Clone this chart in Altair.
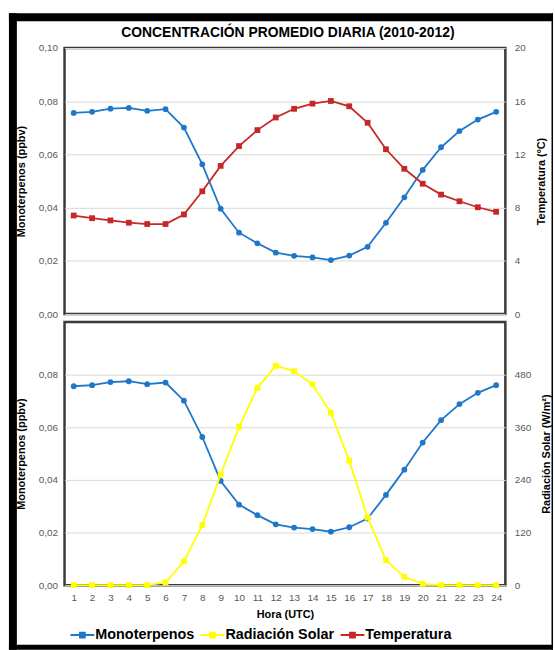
import altair as alt
import pandas as pd

# ---- data ----
horas = list(range(1, 25))
monoterpenos = [0.0756, 0.0760, 0.0772, 0.0775, 0.0764, 0.0770, 0.0701, 0.0563,
                0.0396, 0.0306, 0.0266, 0.0231, 0.0219, 0.0213, 0.0203, 0.0220,
                0.0253, 0.0343, 0.0439, 0.0542, 0.0627, 0.0688, 0.0731, 0.0760]
temperatura = [7.41, 7.21, 7.04, 6.87, 6.77, 6.77, 7.49, 9.23, 11.14, 12.63,
               13.83, 14.78, 15.43, 15.82, 16.02, 15.62, 14.38, 12.39, 10.92,
               9.80, 8.98, 8.48, 8.03, 7.69]
radiacion = [0, 0, 0, 0, 0, 6, 54, 137, 252, 361, 450, 500, 488, 458, 393, 284,
             154, 57, 19, 3, 0, 0, 0, 0]

series = ["Monoterpenos", "Radiación Solar", "Temperatura"]
colores = ["#1F77C9", "#FFFF00", "#C62828"]

mono_ticks = [0, 0.02, 0.04, 0.06, 0.08, 0.10]
mono_ticks_bottom = [0, 0.02, 0.04, 0.06, 0.08]
temp_ticks = [0, 4, 8, 12, 16, 20]
rad_ticks = [0, 120, 240, 360, 480]

df = pd.DataFrame({"hora": horas, "mono": monoterpenos,
                   "temp": temperatura, "rad": radiacion})
one = pd.DataFrame({"k": [0]})

FONT = "Liberation Sans"
W, H_TOP, H_BOT = 444, 268, 265

color_scale = alt.Scale(domain=series, range=colores)
sq = "M-1,0H1M-0.2,-0.2H0.2V0.2H-0.2Z"
legend = alt.Legend(
    title=None, orient="none", direction="horizontal",
    legendX=5, legendY=578,
    labelFont=FONT, labelFontSize=14.5, labelFontWeight="bold", labelColor="black",
    symbolType=sq, symbolSize=576, symbolStrokeWidth=2,
    columnPadding=2, labelOffset=0,
)


def col(name):
    return alt.Color("serie:N", scale=color_scale, legend=legend)


lbl2 = "replace(format(datum.value, '.2f'), '.', ',')"

x_top = alt.X("hora:O", axis=None)
x_bot = alt.X("hora:O", axis=alt.Axis(title="Hora (UTC)", labelAngle=0, ticks=False,
                                     domain=False, labelPadding=7, titlePadding=7))

y_mono_top = alt.Y("mono:Q", scale=alt.Scale(domain=[0, 0.10]),
                   axis=alt.Axis(title="Monoterpenos (ppbv)", values=mono_ticks,
                                 labelExpr=lbl2, grid=True, titlePadding=12))
y_mono_bot = alt.Y("mono:Q", scale=alt.Scale(domain=[0, 0.10]),
                   axis=alt.Axis(title="Monoterpenos (ppbv)", values=mono_ticks_bottom,
                                 labelExpr=lbl2, grid=True, titlePadding=12))
y_temp = alt.Y("temp:Q", scale=alt.Scale(domain=[0, 20]),
               axis=alt.Axis(title="Temperatura (ºC)", orient="right", values=temp_ticks,
                             grid=False, titleAngle=270, titlePadding=21, labelPadding=9))
y_rad = alt.Y("rad:Q", scale=alt.Scale(domain=[0, 600]),
              axis=alt.Axis(title="Radiación Solar (W/m²)", orient="right", values=rad_ticks,
                            grid=False, titleAngle=270, titlePadding=21, labelPadding=9))


def series_layer(field_name, x, y, shape):
    base = alt.Chart(df).transform_calculate(serie="'%s'" % field_name)
    line = base.mark_line(strokeWidth=1.8).encode(x=x, y=y, color=col(field_name))
    pts = base.mark_point(filled=True, size=34, opacity=1, shape=shape).encode(
        x=x, y=y, color=alt.Color("serie:N", scale=color_scale, legend=None))
    return line + pts


def band(x1, x2, y1, y2):
    return alt.Chart(one).mark_rect(color="black").encode(
        x=alt.value(x1), x2=alt.value(x2), y=alt.value(y1), y2=alt.value(y2))


# outer frame of the picture (relative to the top plot's origin)
frame = alt.layer(
    band(-56, -48, -35, 606),
    band(-56, 492, -35, -27),
    band(490.5, 492, -35, 606),
    band(-56, 492, 601, 606),
)

top = alt.layer(
    alt.layer(series_layer("Monoterpenos", x_top, y_mono_top, "circle"), frame),
    series_layer("Temperatura", x_top, y_temp, "square"),
).resolve_scale(y="independent").properties(width=W, height=H_TOP)

bottom = alt.layer(
    series_layer("Monoterpenos", x_bot, y_mono_bot, "circle"),
    series_layer("Radiación Solar", x_bot, y_rad, "square"),
).resolve_scale(y="independent").properties(width=W, height=H_BOT)

chart = alt.vconcat(top, bottom, spacing=8, bounds="flush").resolve_scale(
    color="shared"
).properties(
    title=alt.TitleParams("CONCENTRACIÓN PROMEDIO DIARIA (2010-2012)", font=FONT,
                          fontSize=14, fontWeight="bold", color="black",
                          anchor="middle", frame="group", offset=-28, dx=3),
    padding={"left": 7, "top": 9, "right": 0, "bottom": 0},
    background="white",
).configure_view(
    stroke="#3a3a3a", strokeWidth=2.5
).configure_axis(
    labelFont=FONT, labelFontSize=10, labelColor="#595959",
    titleFont=FONT, titleFontSize=11, titleFontWeight="bold", titleColor="black",
    gridColor="#d9d9d9", gridWidth=1, domain=False, ticks=False, labelPadding=7,
)

chart.save("out.html", embed_options={"renderer": "svg", "actions": False})
